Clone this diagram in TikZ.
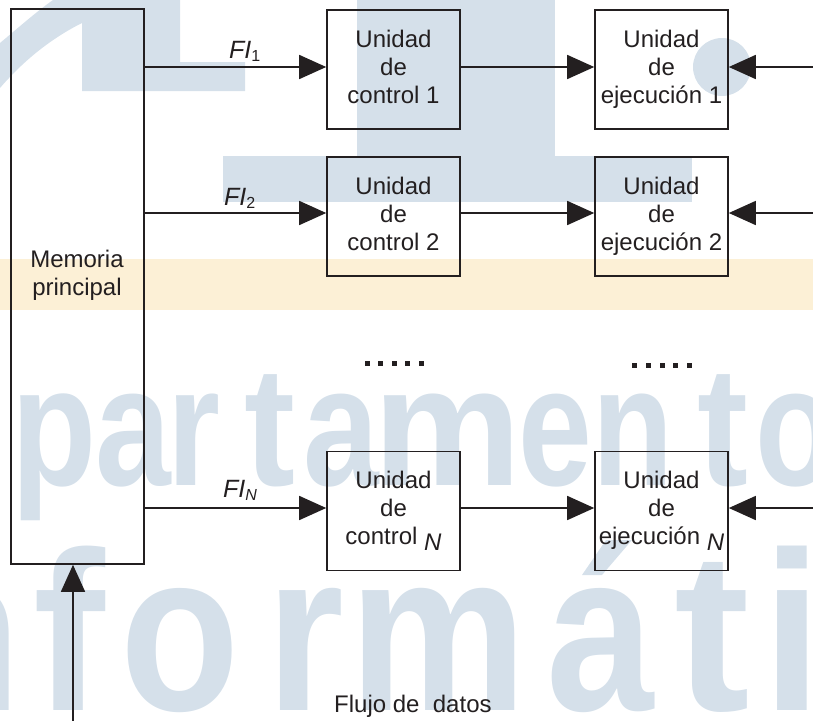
\documentclass[tikz,border=0pt]{standalone}
\usepackage{fontspec}
\setmainfont{Liberation Sans}
\usetikzlibrary{arrows.meta}
\definecolor{ink}{HTML}{231F20}
\definecolor{wmblue}{HTML}{D5E0EA}
\definecolor{wmyellow}{HTML}{FCF0D6}
% one big watermark letter: name, x, y (baseline), size, horizontal scale, letter
\newcommand\wmletter[6]{\node[wm] (#1) at (#2,#3) {\fontsize{#4}{#4}\selectfont\bfseries\scalebox{#5}[1]{#6}};}
\begin{document}
\begin{tikzpicture}[x=1pt,y=-1pt,
  wm/.style={text=wmblue,inner sep=0pt,anchor=base},
  unit/.style={draw=ink,line width=1.6pt,minimum width=133pt,minimum height=119pt,
    inner sep=0pt,align=center,text=ink,font=\fontsize{24}{28}\selectfont},
  arr/.style={draw=ink,line width=1.6pt,-{Triangle[length=27pt,width=24pt]}},
  lbl/.style={text=ink,inner sep=0pt,anchor=base west,font=\fontsize{25}{25}\selectfont\itshape},
  txt/.style={text=ink,inner sep=0pt,align=center,font=\fontsize{24}{28}\selectfont}]
\useasboundingbox (0,0) rectangle (813,720);
\clip (0,0) rectangle (813,720);

% ---- background watermark ----
\fill[wmyellow] (0,259) rectangle (813,310);
\fill[wmblue] (0,43) .. controls (18,28) and (36,12) .. (53,0) -- (180,0) -- (180,62)
  -- (245,62) -- (245,91) -- (82,91) -- (82,23) .. controls (52,38) and (24,60) .. (0,88) -- cycle;
\fill[wmblue] (357,0) rectangle (555,157);
\fill[wmblue] (223,156) rectangle (692,202);
\fill[wmblue] (722,67) circle (29pt);

\wmletter{wa1}{54}{485}{170}{0.82}{p}
\wmletter{wa2}{133}{485}{170}{0.8}{a}
\wmletter{wa3}{194}{485}{170}{0.8}{r}
\wmletter{wa4}{270}{485}{170}{0.9}{t}
\wmletter{wa5}{341}{485}{170}{0.8}{a}
\wmletter{wa6}{448}{485}{170}{0.98}{m}
\wmletter{wa7}{555}{485}{170}{0.78}{e}
\wmletter{wa8}{633}{485}{170}{0.78}{n}
\wmletter{wa9}{723}{485}{170}{0.9}{t}
\wmletter{wa10}{796}{485}{170}{0.78}{o}

\wmletter{wb1}{-39}{710}{227}{0.88}{n}
\wmletter{wb2}{69}{710}{227}{0.95}{f}
\wmletter{wb3}{180}{710}{227}{0.86}{o}
\wmletter{wb4}{305}{710}{227}{0.88}{r}
\wmletter{wb5}{438}{710}{227}{0.88}{m}
\wmletter{wb6}{600}{710}{227}{0.85}{a}
\wmletter{wb7}{712}{710}{227}{1.0}{t}
\wmletter{wb8}{792}{710}{227}{0.95}{i}
\fill[wmblue] (582,575) -- (606,540) -- (632,540) -- (602,575) -- cycle;

% ---- memory ----
\node[draw=ink,line width=1.6pt,minimum width=133pt,minimum height=555pt,inner sep=0pt]
  (mem) at (77.5,286.5) {};
\node[txt] (memtxt) at (77,276) {\strut Memoria\\principal\strut};

% ---- control and execution units ----
\node[unit] (c1) at (393.5,69.5) {\strut Unidad\\de\\control 1\strut};
\node[unit] (x1) at (661.5,69.5) {\strut Unidad\\de\\ejecución 1\strut};
\node[unit] (c2) at (393.5,216.5) {\strut Unidad\\de\\control 2\strut};
\node[unit] (x2) at (661.5,216.5) {\strut Unidad\\de\\ejecución 2\strut};
\node[unit] (cN) at (393.5,511) {\strut Unidad\\de\\control \raisebox{-6pt}{\itshape N}\strut};
\node[unit] (xN) at (661.5,511) {\strut Unidad\\de\\ejecución \raisebox{-6pt}{\itshape N}\strut};

% ---- instruction flows ----
\coordinate (r1) at ([yshift=2.5pt]c1.west);
\coordinate (r2) at ([yshift=3.5pt]c2.west);
\coordinate (rN) at ([yshift=3pt]cN.west);
\coordinate (rim) at (830,0);

\draw[arr] (r1 -| mem.east) -- (r1 -| c1.west);
\draw[arr] (r2 -| mem.east) -- (r2 -| c2.west);
\draw[arr] (rN -| mem.east) -- (rN -| cN.west);
\draw[arr] (r1 -| c1.east) -- (r1 -| x1.west);
\draw[arr] (r2 -| c2.east) -- (r2 -| x2.west);
\draw[arr] (rN -| cN.east) -- (rN -| xN.west);
\draw[arr] (r1 -| rim) -- (r1 -| x1.east);
\draw[arr] (r2 -| rim) -- (r2 -| x2.east);
\draw[arr] (rN -| rim) -- (rN -| xN.east);

\node[lbl] (fi1) at (229,58) {FI\raisebox{-3pt}{\fontsize{16}{16}\selectfont\upshape 1}};
\node[lbl] (fi2) at (224,205) {FI\raisebox{-3pt}{\fontsize{16}{16}\selectfont\upshape 2}};
\node[lbl] (fiN) at (223,497) {FI\raisebox{-3pt}{\fontsize{16}{16}\selectfont N}};

% ---- ellipsis dots ----
\foreach \i in {0,...,4} {
  \fill[ink] (365+\i*13.4,361) rectangle ++(5,5);
  \fill[ink] (632+\i*13.8,363) rectangle ++(5,5);
}

% ---- data flow ----
\coordinate (src) at (73,730);
\draw[arr] (src) -- (src |- mem.south);
\node[text=ink,inner sep=0pt,anchor=base west,font=\fontsize{24}{24}\selectfont]
  (flujo) at (334,712) {Flujo de\ \ datos};
\end{tikzpicture}
\end{document}
